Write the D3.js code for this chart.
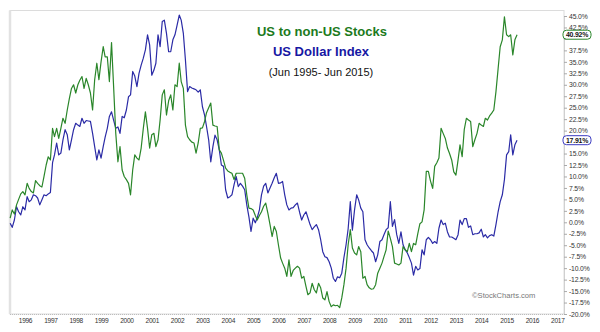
<!DOCTYPE html>
<html><head><meta charset="utf-8">
<script src="https://cdn.jsdelivr.net/npm/d3@7"></script>
<style>
body{margin:0;background:#fff;}
svg{display:block;font-family:"Liberation Sans",Arial,sans-serif;}
</style></head><body><svg id="c" width="600" height="332"></svg>
<script>
// Monthly observations, Jun 1995 .. Jun 2015 (241 months)
const firstMonth = "1995-06";
const monthCount = 241;

const seriesNames = ["US to non-US Stocks", "US Dollar Index"];
const subtitle = "(Jun 1995- Jun 2015)";

// US to non-US Stocks (% change)
const greenValues = [
0.9,2.7,1.8,3.8,5.0,6.2,6.7,6.0,8.5,7.4,6.7,6.4,9.1,8.5,8.0,7.7,10.0,12.5,14.3,13.6,
20.5,18.7,20.5,18.3,20.5,22.7,21.6,24.5,27.0,29.2,30.0,28.2,30.0,31.0,31.8,29.2,31.4,30.0,28.2,24.5,
31.1,34.7,31.1,35.0,38.3,36.1,36.1,30.7,39.2,29.6,19.4,13.2,16.5,11.4,10.0,9.3,8.5,6.0,11.4,14.7,
14.0,13.6,16.2,20.5,24.1,20.5,16.2,19.1,19.4,16.5,18.0,22.3,27.8,28.9,23.4,26.5,27.8,24.5,30.0,29.6,
34.7,30.7,29.2,21.2,18.7,18.0,17.5,17.3,15.1,17.3,20.5,20.6,22.0,23.9,25.0,26.0,21.2,21.0,20.9,15.8,
15.1,13.5,11.8,11.2,10.9,10.7,9.3,10.7,10.7,10.7,10.7,9.6,6.0,3.1,3.0,2.7,1.5,0.5,1.5,2.3,
3.5,4.2,2.0,-0.5,-3.1,-0.9,-2.0,-5.0,-7.8,-8.9,-10.0,-11.8,-8.2,-11.8,-10.5,-10.0,-9.6,-10.0,-12.2,-11.8,
-14.0,-15.8,-15.4,-13.3,-14.7,-15.4,-13.3,-14.3,-16.5,-16.9,-15.1,-17.3,-18.4,-18.0,-18.2,-18.1,-18.6,-16.5,-13.6,-10.0,
-4.9,-1.6,-5.6,-6.7,-7.1,-5.3,-6.4,-12.2,-11.8,-13.6,-14.3,-14.6,-14.5,-13.6,-11.1,-10.0,-8.9,-7.5,-6.0,-1.9,
-3.5,-5.3,-8.9,-9.1,-9.3,-8.9,-5.3,-6.0,-6.4,-4.6,-6.4,-4.6,-4.9,-2.5,-0.3,0.1,2.7,11.1,11.1,9.0,
7.4,12.2,13.0,14.0,20.5,19.4,18.3,16.2,15.0,13.6,11.0,10.3,13.6,16.9,14.3,20.2,22.7,22.3,22.0,16.5,
18.0,19.4,21.6,21.2,20.9,22.7,22.3,23.2,23.8,24.5,28.5,33.5,38.3,39.8,44.8,40.9,40.5,40.9,36.5,39.8,
40.92
];

// US Dollar Index (% change)
const blueValues = [
-0.2,-1.1,0.5,3.4,2.3,1.6,3.4,2.7,5.6,4.5,4.9,6.0,5.8,5.3,3.8,4.9,6.0,5.8,6.2,6.5,
13.0,14.7,17.3,14.7,15.1,18.0,20.2,19.1,15.8,18.0,20.2,21.6,21.2,20.9,22.7,21.6,22.2,22.1,22.0,19.4,
16.5,13.6,15.8,14.0,16.5,18.6,20.5,23.1,24.1,22.3,20.5,20.8,19.4,23.1,22.8,24.5,27.4,27.8,32.9,31.9,
29.6,32.5,34.3,35.8,37.6,40.9,38.7,32.1,33.2,34.7,40.9,38.3,43.8,44.1,41.2,37.2,37.2,39.8,40.9,43.0,
45.2,44.1,41.2,35.4,28.5,29.6,29.3,29.1,28.9,28.4,28.9,25.2,23.4,20.9,18.0,13.2,16.5,19.0,18.0,15.8,
12.5,12.2,7.1,5.3,5.6,6.0,8.2,10.0,7.8,8.5,7.9,7.1,3.8,1.2,-2.0,0.9,-0.1,1.0,2.7,6.0,
7.9,8.5,6.4,7.5,8.5,9.7,10.7,8.5,8.6,8.9,6.0,3.8,2.7,3.1,3.2,3.8,4.2,2.2,0.5,1.6,
2.3,1.0,-0.5,-1.6,-1.0,-0.5,-1.6,-3.8,-6.4,-7.5,-7.7,-8.6,-10.0,-12.2,-12.9,-11.9,-12.1,-11.1,-7.7,-4.9,
-1.4,4.5,-1.7,2.7,6.0,4.9,3.1,2.3,-3.8,-4.9,-5.6,-6.2,-6.7,-8.6,-7.1,-4.2,-3.8,-2.7,-1.6,-1.2,
4.5,-0.9,0.6,-2.7,-4.6,-2.1,-4.9,-6.0,-6.7,-7.7,-8.9,-11.5,-9.6,-10.4,-10.1,-6.0,-7.1,-3.8,-3.3,-3.8,
-4.6,-4.2,-4.6,-1.3,0.5,-0.5,-0.2,-2.1,-3.2,-3.2,-3.5,-3.8,-2.7,0.5,-0.5,0.8,0.8,-1.1,-0.8,-2.7,
-2.5,-2.5,-2.3,-1.5,-3.2,-2.7,-3.4,-2.9,-2.7,-3.0,-0.5,2.3,4.5,6.0,9.3,14.7,15.4,19.1,14.7,16.9,
17.91
];

const yearLabels = ["1996","1997","1998","1999","2000","2001","2002","2003","2004","2005","2006",
  "2007","2008","2009","2010","2011","2012","2013","2014","2015","2016","2017"];
const yTicks = [-20,-17.5,-15,-12.5,-10,-7.5,-5,-2.5,0,2.5,5,7.5,10,12.5,15,17.5,20,22.5,25,27.5,30,32.5,35,37.5,40,42.5,45];
const lastValueLabels = ["40.92%", "17.91%"];
const credit = "\u00A9StockCharts.com";

const colors = {green:"#2a862a", blue:"#2b2ba6", greenTitle:"#1c7a1c", blueTitle:"#1717a3"};

const parseMonth = d3.timeParse("%Y-%m");
const start = parseMonth(firstMonth);
const months = d3.range(monthCount).map(i => d3.timeMonth.offset(start, i));

const svg = d3.select("#c");
const x = d3.scaleTime().domain([new Date(1996,0,1), new Date(2017,0,1)]).range([25, 557.3]);
const y = d3.scaleLinear().domain([-20, 45]).range([314, 16]);

const L = 10, R = 564, T = 10.5, B = 314;
const lastVals = [greenValues[greenValues.length - 1], blueValues[blueValues.length - 1]];

// frame
svg.append("rect").attr("x", L).attr("y", T).attr("width", R - L).attr("height", B - T)
  .attr("fill", "#fff").attr("stroke", "#dcdcdc").attr("stroke-width", 1);
svg.append("line").attr("x1", L).attr("x2", L).attr("y1", T).attr("y2", B)
  .attr("stroke", "#e2e2e2").attr("stroke-width", 2.5);
svg.append("line").attr("x1", L).attr("x2", R).attr("y1", B + 0.5).attr("y2", B + 0.5)
  .attr("stroke", "#bdbdbd").attr("stroke-width", 1).attr("stroke-dasharray", "1,1");

// right axis
const yAxis = svg.append("g").attr("transform", `translate(${R},0)`)
  .call(d3.axisRight(y).tickValues(yTicks).tickSize(3).tickPadding(2)
    .tickFormat(d => d.toFixed(1) + "%"));
yAxis.select(".domain").attr("stroke", "#d0d0d0");
yAxis.selectAll(".tick line").attr("stroke", "#aaa");
yAxis.selectAll("text").attr("fill", "#333").attr("font-size", 6.8).attr("letter-spacing", -0.15);
// labels hidden under the last-value badges
yAxis.selectAll(".tick").filter(t => lastVals.some(v => Math.abs(y(t) - y(v)) < 6))
  .select("text").remove();

// bottom axis
const xAxis = svg.append("g").attr("transform", `translate(0,${B})`)
  .call(d3.axisBottom(x).tickValues(yearLabels.map(s => new Date(+s, 0, 1)))
    .tickSize(0).tickPadding(4).tickFormat(d3.timeFormat("%Y")));
xAxis.select(".domain").remove();
xAxis.selectAll("text").attr("fill", "#333").attr("font-size", 6.6).attr("letter-spacing", -0.3);

// lines
const line = d3.line().x((d, i) => x(months[i])).y(d => y(d));
svg.append("path").datum(blueValues).attr("d", line).attr("fill", "none")
  .attr("stroke", colors.blue).attr("stroke-width", 1.2).attr("stroke-linejoin", "round");
svg.append("path").datum(greenValues).attr("d", line).attr("fill", "none")
  .attr("stroke", colors.green).attr("stroke-width", 1.2).attr("stroke-linejoin", "round");

// titles
svg.append("text").attr("x", 322).attr("y", 36).attr("text-anchor", "middle")
  .attr("font-size", 13).attr("font-weight", "bold").attr("fill", colors.greenTitle).text(seriesNames[0]);
svg.append("text").attr("x", 321).attr("y", 56).attr("text-anchor", "middle")
  .attr("font-size", 13).attr("font-weight", "bold").attr("fill", colors.blueTitle).text(seriesNames[1]);
svg.append("text").attr("x", 321).attr("y", 76).attr("text-anchor", "middle")
  .attr("font-size", 11).attr("fill", "#111").text(subtitle);

// credit
svg.append("text").attr("x", 472).attr("y", 298).attr("font-size", 7.6)
  .attr("fill", "#777").text(credit);

// last value badges
const badgeCols = [colors.green, "#3a3ac0"];
lastVals.forEach((v, i) => {
  const g = svg.append("g").attr("transform", `translate(${R - 1},${y(v)})`);
  g.append("rect").attr("x", 0).attr("y", -4.5).attr("width", 28).attr("height", 9).attr("rx", 3.5)
    .attr("fill", "#fff").attr("stroke", badgeCols[i]).attr("stroke-width", 1);
  g.append("text").attr("x", 14).attr("y", 2.4).attr("text-anchor", "middle")
    .attr("font-size", 6.9).attr("font-weight", "bold").attr("fill", "#111")
    .attr("letter-spacing", -0.2).text(lastValueLabels[i]);
});
</script></body></html>
